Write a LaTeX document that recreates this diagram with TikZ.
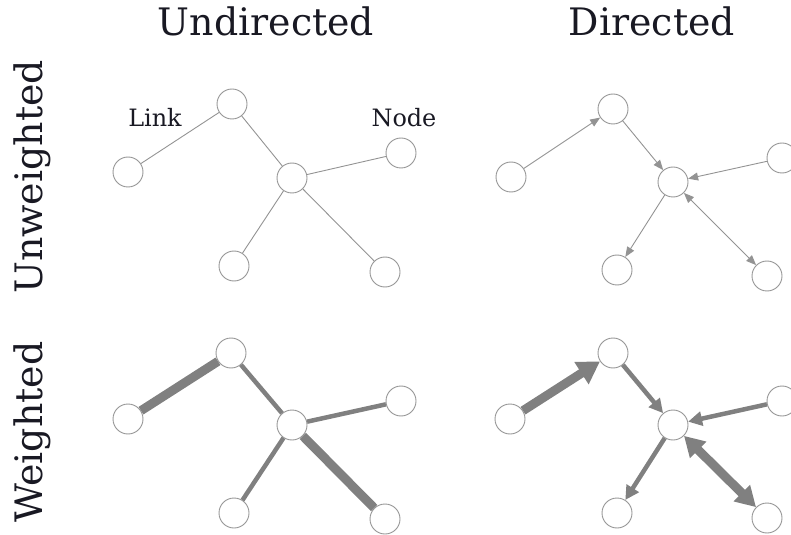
\documentclass[tikz,border=0pt]{standalone}
\usepackage{fontspec}
\setmainfont{DejaVu Serif}
\usetikzlibrary{arrows.meta}
\definecolor{edgegray}{RGB}{128,128,128}
\definecolor{circgray}{RGB}{150,150,150}
\definecolor{textcol}{RGB}{25,25,35}
\tikzset{
  vert/.style={circle,draw=circgray,line width=0.9bp,fill=white,minimum size=30bp,inner sep=0pt},
  thin/.style={draw=edgegray!85,line width=0.9bp},
  thinarr/.style={thin,-{Triangle[length=10bp,width=8bp]}},
  thinbi/.style={thin,{Triangle[length=10bp,width=8bp]}-{Triangle[length=10bp,width=8bp]}},
  med/.style={draw=edgegray,line width=4.5bp},
  heavy/.style={draw=edgegray,line width=9bp},
  medarr/.style={med,-{Triangle[length=14bp,width=14bp]}},
  heavyarr/.style={heavy,-{Triangle[length=22bp,width=25bp]}},
  heavybi/.style={heavy,{Triangle[length=20bp,width=22bp]}-{Triangle[length=20bp,width=22bp]}},
  title/.style={anchor=base,text=textcol,font=\fontsize{38}{40}\selectfont},
  lbl/.style={anchor=base,text=textcol,font=\fontsize{24}{26}\selectfont}
}
\begin{document}
\begin{tikzpicture}[x=1bp,y=-1bp]
\useasboundingbox (0,0) rectangle (791,535);
\clip (0,0) rectangle (791,535);
% titles
\node[title] (tU) at (266,36) {Undirected};
\node[title] (tD) at (652,36) {Directed};
\node[title,rotate=90] (tUw) at (42,177) {Unweighted};
\node[title,rotate=90] (tW) at (42,432) {Weighted};
\node[lbl] (link) at (155,127) {Link};
\node[lbl] (nodelbl) at (404,127) {Node};
% undirected unweighted
\node[vert] (a1) at (128,172) {};
\node[vert] (b1) at (232,104) {};
\node[vert] (c1) at (292,178) {};
\node[vert] (d1) at (401,153) {};
\node[vert] (e1) at (234,266) {};
\node[vert] (f1) at (385,272) {};
\path[thin] (a1) -- (b1) (b1) -- (c1) (c1) -- (d1) (c1) -- (e1) (c1) -- (f1);
% directed unweighted
\node[vert] (a2) at (511,177) {};
\node[vert] (b2) at (613,109) {};
\node[vert] (c2) at (673,182) {};
\node[vert] (d2) at (782,158) {};
\node[vert] (e2) at (617,270) {};
\node[vert] (f2) at (767,276) {};
\draw[thinarr] (a2) -- (b2);
\draw[thinarr] (b2) -- (c2);
\draw[thinarr] (d2) -- (c2);
\draw[thinarr] (c2) -- (e2);
\draw[thinbi] (c2) -- (f2);
% undirected weighted
\node[vert] (a3) at (128,419) {};
\node[vert] (b3) at (231,353) {};
\node[vert] (c3) at (292,425) {};
\node[vert] (d3) at (401,401) {};
\node[vert] (e3) at (234,513) {};
\node[vert] (f3) at (385,519) {};
\path[heavy] (a3) -- (b3);
\path[med] (b3) -- (c3);
\path[med] (c3) -- (d3);
\path[med] (c3) -- (e3);
\path[heavy] (c3) -- (f3);
% directed weighted
\node[vert] (a4) at (510,419) {};
\node[vert] (b4) at (613,353) {};
\node[vert] (c4) at (673,425) {};
\node[vert] (d4) at (782,401) {};
\node[vert] (e4) at (617,513) {};
\node[vert] (f4) at (767,518) {};
\draw[heavyarr] (a4) -- (b4);
\draw[medarr] (b4) -- (c4);
\draw[medarr] (d4) -- (c4);
\draw[medarr] (c4) -- (e4);
\draw[heavybi] (c4) -- (f4);
\end{tikzpicture}
\end{document}
